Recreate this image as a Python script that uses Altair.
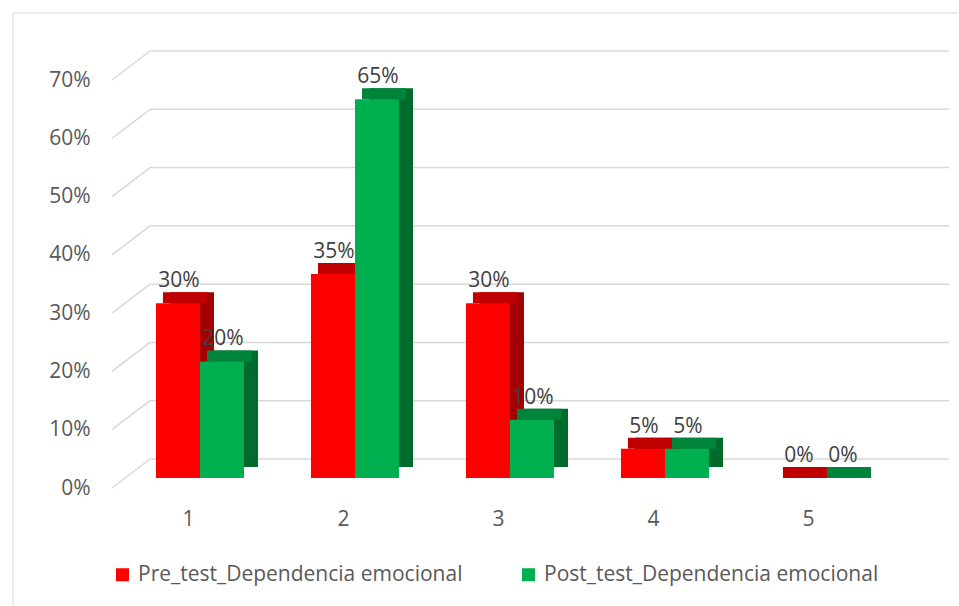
import altair as alt
import pandas as pd

categories = ["1", "2", "3", "4", "5"]
series = ["Pre_test_Dependencia emocional", "Post_test_Dependencia emocional"]
pre_values = [0.30, 0.35, 0.30, 0.05, 0.00]
post_values = [0.20, 0.65, 0.10, 0.05, 0.00]
y_ticks = [0.0, 0.1, 0.2, 0.3, 0.4, 0.5, 0.6, 0.7]

front_colors = ["#FF0000", "#00B050"]
top_colors = ["#C00000", "#00843C"]
side_colors = ["#A00000", "#006B2C"]

BAR_W = 0.284  # bar width in category units (layout)

rows = []
for i, c in enumerate(categories):
    for k, (s, vals, tc, sc) in enumerate(zip(series, [pre_values, post_values], top_colors, side_colors)):
        x0 = float(c) + (k - 1) * BAR_W
        rows.append({"cat": float(c), "series": s, "value": vals[i], "top": tc, "side": sc,
                     "x0": x0, "x1": x0 + BAR_W, "xm": x0 + BAR_W / 2})
df = pd.DataFrame(rows)
ticks_df = pd.DataFrame({"tick": y_ticks})

FONT = "Open Sans"
TXT = "#595959"
GRID = "#D9D9D9"

yscale = alt.Scale(domain=[0, 0.7], nice=False, zero=True)
xscale = alt.Scale(domain=[0.4323, 5.555], nice=False, zero=False)
xaxis = alt.Axis(values=[1, 2, 3, 4, 5], format="d", domain=False, ticks=False, grid=False,
                 labelPadding=20, labelOffset=-12, labelFontSize=21, labelColor=TXT, labelFont=FONT)
yaxis = alt.Axis(values=y_ticks, format=".0%", domain=False, ticks=False, grid=False,
                 labelPadding=22, labelFontSize=21, labelColor=TXT, labelFont=FONT)

X0 = alt.X("x0:Q", scale=xscale, axis=xaxis, title=None)
X1 = alt.X2("x1:Q")
XM = alt.X("xm:Q", scale=xscale, axis=xaxis, title=None)
Y = alt.Y("value:Q", scale=yscale, axis=yaxis, title=None)

grid_back = alt.Chart(ticks_df).mark_rule(color=GRID, strokeWidth=1.5, yOffset=-29, y2Offset=-29).encode(
    y=alt.Y("tick:Q", scale=yscale, axis=yaxis, title=None), x=alt.value(38), x2=alt.value(837))
grid_diag = alt.Chart(ticks_df).mark_rule(color=GRID, strokeWidth=1.5, y2Offset=-29).encode(
    y=alt.Y("tick:Q", scale=yscale, axis=yaxis, title=None), y2=alt.Y2("tick:Q"),
    x=alt.value(0), x2=alt.value(38))

border_left = alt.Chart(ticks_df.head(1)).mark_rule(color=GRID, strokeWidth=1).encode(
    x=alt.value(-99), y=alt.value(-67), y2=alt.value(526))
border_top = alt.Chart(ticks_df.head(1)).mark_rule(color=GRID, strokeWidth=1).encode(
    x=alt.value(-99), x2=alt.value(846), y=alt.value(-67))

base = alt.Chart(df)
side = base.mark_rect(xOffset=14, x2Offset=14, yOffset=-21, y2Offset=-21).encode(
    x=X0, x2=X1, y=Y, y2=alt.datum(0), color=alt.Color("side:N", scale=None))
top = base.mark_rect(xOffset=7, x2Offset=7, yOffset=-21, y2Offset=-10).encode(
    x=X0, x2=X1, y=Y, y2=alt.Y2("value:Q"), color=alt.Color("top:N", scale=None))
front = base.mark_rect(yOffset=-10, y2Offset=-10).encode(
    x=X0, x2=X1, y=Y, y2=alt.datum(0),
    color=alt.Color("series:N", sort=series,
                    scale=alt.Scale(domain=series, range=front_colors),
                    legend=alt.Legend(title=None, orient="none", legendX=0, legendY=484,
                                      direction="horizontal", symbolType="square", symbolSize=169,
                                      symbolStrokeWidth=0, labelFontSize=21, labelColor=TXT,
                                      labelFont=FONT, columnPadding=55, labelOffset=5,
                                      labelLimit=600)))
labels = base.mark_text(baseline="bottom", dy=-22, dx=1, fontSize=21, color="#404040", font=FONT).encode(
    x=XM, y=Y, text=alt.Text("value:Q", format=".0%"))

chart = alt.layer(border_left, border_top, grid_diag, grid_back, side, top, front, labels).properties(
    width=794, height=408, padding={"left": 12, "top": 12, "right": 0, "bottom": 0}
).configure(font=FONT, view=alt.ViewConfig(stroke=None))

chart.save("out.html", embed_options={"renderer": "svg", "actions": False})
